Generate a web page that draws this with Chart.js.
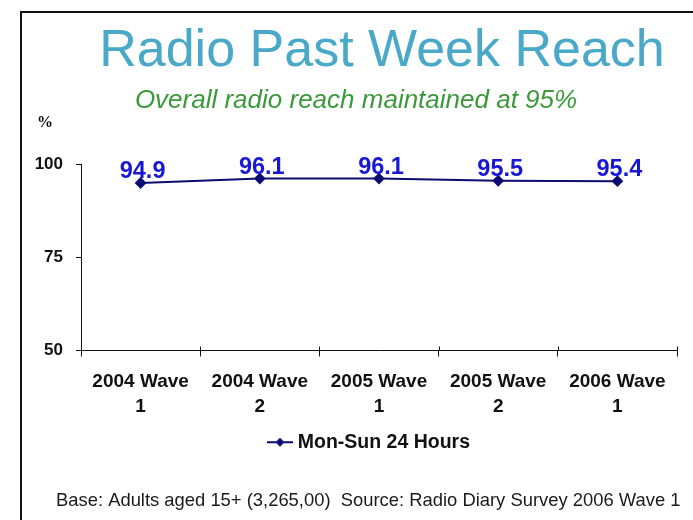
<!DOCTYPE html>
<html>
<head>
<meta charset="utf-8">
<script src="https://cdn.jsdelivr.net/npm/chart.js@4.4.1/dist/chart.umd.min.js"></script>
<style>
  html, body { margin: 0; padding: 0; background: #ffffff; }
  #wrap { width: 693px; height: 520px; position: relative; }
</style>
</head>
<body>
<div id="wrap"><canvas id="c" width="693" height="520"></canvas></div>
<script>
// Survey waves (two-line category labels)
const waves = [
  ["2004 Wave", "1"],
  ["2004 Wave", "2"],
  ["2005 Wave", "1"],
  ["2005 Wave", "2"],
  ["2006 Wave", "1"]
];
// Weekly reach, % of adults 15+
const reach = [94.9, 96.1, 96.1, 95.5, 95.4];
const seriesName = "Mon-Sun 24 Hours";
const yTicks = [50, 75, 100];

const chartTitle = "Radio Past Week Reach";
const chartSubtitle = "Overall radio reach maintained at 95%";
const unitLabel = "%";
const footnote = "Base: Adults aged 15+ (3,265,00)  Source: Radio Diary Survey 2006 Wave 1";

const SANS = "'Liberation Sans', Arial, Helvetica, sans-serif";
const SERIF = "'Liberation Serif', 'Times New Roman', serif";
const NAVY = "#0c0c72";
const LABEL_BLUE = "#1717d4";

// Legend swatch: short line with a diamond marker
const swatch = document.createElement("canvas");
swatch.width = 26; swatch.height = 12;
(function () {
  const g = swatch.getContext("2d");
  g.strokeStyle = NAVY; g.lineWidth = 2;
  g.beginPath(); g.moveTo(0, 6); g.lineTo(26, 6); g.stroke();
  g.fillStyle = NAVY;
  g.beginPath(); g.moveTo(13, 1.5); g.lineTo(17.5, 6); g.lineTo(13, 10.5); g.lineTo(8.5, 6); g.closePath(); g.fill();
})();

// Page decorations: frame, headings, unit and source note
const pageText = {
  id: "pageText",
  afterLayout(chart) {
    // nudge the legend a little left of the plot centre
    if (chart.legend) { chart.legend.left -= 8; chart.legend.right -= 8; }
  },
  beforeDraw(chart) {
    const ctx = chart.ctx;
    ctx.save();
    ctx.fillStyle = "#ffffff";
    ctx.fillRect(0, 0, chart.width, chart.height);
    ctx.strokeStyle = "#111111";
    ctx.lineWidth = 2;
    ctx.beginPath();
    ctx.moveTo(chart.width + 2, 12);
    ctx.lineTo(21, 12);
    ctx.lineTo(21, chart.height + 2);
    ctx.stroke();
    ctx.restore();
  },
  afterDraw(chart) {
    const ctx = chart.ctx;
    ctx.save();
    ctx.textBaseline = "alphabetic";
    ctx.textAlign = "center";
    ctx.fillStyle = "#4aa8c8";
    ctx.font = "52px " + SANS;
    ctx.fillText(chartTitle, 382, 66);
    ctx.fillStyle = "#3a9a3a";
    ctx.font = "italic 26px " + SANS;
    ctx.fillText(chartSubtitle, 356, 108);
    ctx.textAlign = "left";
    ctx.fillStyle = "#111111";
    ctx.font = "bold 16px " + SERIF;
    ctx.fillText(unitLabel, 37, 127);
    ctx.font = "18.4px " + SANS;
    ctx.fillStyle = "#1a1a1a";
    ctx.fillText(footnote, 56, 506);
    ctx.restore();
  }
};

// Value labels above each point, plus the short upward half of the category ticks
const valueLabels = {
  id: "valueLabels",
  afterDatasetsDraw(chart) {
    const ctx = chart.ctx;
    const meta = chart.getDatasetMeta(0);
    const data = chart.data.datasets[0].data;
    ctx.save();
    ctx.font = "bold 23.5px " + SANS;
    ctx.fillStyle = LABEL_BLUE;
    ctx.textAlign = "center";
    ctx.textBaseline = "alphabetic";
    meta.data.forEach((pt, i) => {
      ctx.fillText(data[i].toFixed(1), pt.x + 2, pt.y - 5);
    });
    const xs = chart.scales.x;
    ctx.strokeStyle = "#111111";
    ctx.lineWidth = 1;
    for (let i = 0; i <= waves.length; i++) {
      const px = Math.round(xs.getPixelForValue(i - 0.5)) + 0.5;
      ctx.beginPath();
      ctx.moveTo(px, xs.top - 4);
      ctx.lineTo(px, xs.top);
      ctx.stroke();
    }
    ctx.restore();
  }
};

new Chart(document.getElementById("c"), {
  type: "line",
  data: {
    labels: waves,
    datasets: [{
      label: seriesName,
      data: reach,
      borderColor: NAVY,
      backgroundColor: NAVY,
      borderWidth: 2,
      pointStyle: "rectRot",
      pointRadius: 4.5,
      pointBackgroundColor: NAVY,
      pointBorderColor: NAVY,
      tension: 0,
      fill: false
    }]
  },
  options: {
    responsive: false,
    animation: false,
    devicePixelRatio: 1,
    layout: { padding: { left: 21, right: 16, top: 164, bottom: 58 } },
    scales: {
      x: {
        type: "category",
        offset: true,
        grid: { offset: true, drawOnChartArea: false, drawTicks: true, tickLength: 6, color: "#111111" },
        border: { display: true, color: "#111111", width: 1 },
        ticks: {
          color: "#111111",
          font: { family: SANS, size: 19, weight: "bold", lineHeight: 1.32 },
          padding: 13,
          maxRotation: 0,
          autoSkip: false
        },
        afterFit(scale) { scale.height = 74; }
      },
      y: {
        min: 50,
        max: 100,
        afterBuildTicks(scale) { scale.ticks = yTicks.map(v => ({ value: v })); },
        grid: { drawOnChartArea: false, drawTicks: true, tickLength: 5, color: "#111111" },
        border: { display: true, color: "#111111", width: 1 },
        ticks: {
          color: "#111111",
          font: { family: SANS, size: 17, weight: "bold" },
          padding: 13
        },
        afterFit(scale) { scale.width = 60; }
      }
    },
    plugins: {
      title: { display: false },
      tooltip: { enabled: false },
      legend: {
        display: true,
        position: "bottom",
        fullSize: false,
        labels: {
          usePointStyle: true,
          pointStyleWidth: 16,
          color: "#111111",
          font: { family: SANS, size: 19.5, weight: "bold" },
          padding: 8,
          generateLabels(chart) {
            const items = Chart.defaults.plugins.legend.labels.generateLabels(chart);
            items.forEach(it => { it.pointStyle = swatch; });
            return items;
          }
        }
      }
    }
  },
  plugins: [pageText, valueLabels]
});
</script>
</body>
</html>
